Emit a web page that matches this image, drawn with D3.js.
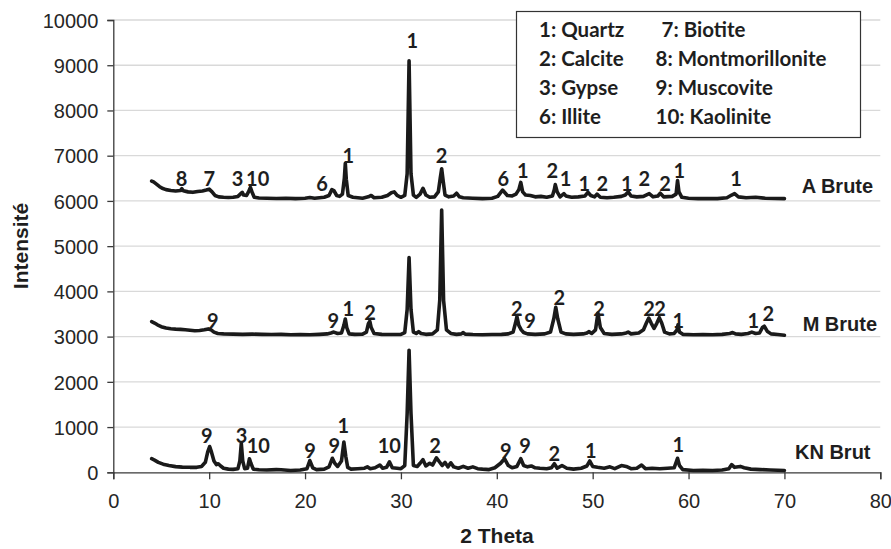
<!DOCTYPE html>
<html>
<head>
<meta charset="utf-8">
<script src="https://cdn.jsdelivr.net/npm/d3@7"></script>
<style>
  html, body { margin: 0; padding: 0; background: #fff; }
  svg { display: block; }
  .tick text { font-family: "Liberation Sans", Arial, sans-serif; font-size: 20px; fill: #262626; }
  .peak { font-family: Lato, "Open Sans", sans-serif; font-weight: 700; font-size: 20px; fill: #1e1e1e; }
  .legend text { font-family: Lato, "Open Sans", sans-serif; font-weight: 700; font-size: 20.5px; fill: #1e1e1e; }
  .series-name { font-family: "Liberation Sans", Arial, sans-serif; font-weight: 700; font-size: 20px; fill: #1e1e1e; }
  .axis-title { font-family: "Liberation Sans", Arial, sans-serif; font-weight: 700; font-size: 21px; fill: #1e1e1e; }
</style>
</head>
<body>
<svg id="chart" width="891" height="549"></svg>
<script>
// Diffractogrammes DRX : 2θ (degrés) et intensité (coups)
const xTicks = [0, 10, 20, 30, 40, 50, 60, 70, 80];
const yTicks = [0, 1000, 2000, 3000, 4000, 5000, 6000, 7000, 8000, 9000, 10000];

const aBrute = [
  [4.0,6440],[4.2,6420],[4.5,6370],[4.8,6320],[5.1,6280],[5.5,6250],[6.0,6230],[6.5,6220],
  [7.0,6230],[7.15,6270],[7.3,6225],[7.8,6200],[8.3,6190],[8.8,6210],[9.3,6220],[9.7,6240],
  [10.0,6260],[10.3,6200],[10.6,6120],[11.0,6090],[11.5,6080],[12.0,6075],[12.5,6080],[13.0,6100],
  [13.3,6160],[13.45,6190],[13.6,6130],[13.9,6120],[14.1,6200],[14.3,6300],[14.5,6180],[14.7,6080],
  [15.2,6065],[16,6060],[17,6055],[18,6060],[19,6050],[20,6060],[20.5,6075],[21,6060],
  [22,6080],[22.5,6120],[22.8,6250],[23.0,6230],[23.3,6120],[23.6,6100],[23.9,6150],[24.1,6500],
  [24.2,6830],[24.3,6480],[24.5,6120],[25,6080],[25.5,6070],[26,6060],[26.6,6090],[26.9,6120],
  [27.2,6070],[28,6080],[28.6,6120],[29.0,6180],[29.3,6200],[29.6,6120],[30.0,6080],[30.4,6120],
  [30.65,6600],[30.85,9100],[31.05,6600],[31.3,6130],[31.6,6080],[32.0,6150],[32.3,6280],[32.6,6130],
  [33.0,6080],[33.5,6090],[33.9,6200],[34.1,6500],[34.25,6710],[34.4,6450],[34.6,6130],[35.0,6090],
  [35.5,6110],[35.8,6170],[36.1,6090],[36.5,6070],[37.5,6060],[38.5,6050],[39.5,6060],[40.1,6100],
  [40.6,6240],[41.1,6120],[41.6,6110],[42.0,6150],[42.3,6250],[42.5,6410],[42.7,6200],[43.0,6130],
  [43.5,6120],[44.0,6090],[44.6,6100],[45.2,6080],[45.8,6110],[46.0,6250],[46.1,6360],[46.3,6200],
  [46.6,6090],[47.0,6160],[47.2,6110],[47.8,6080],[48.5,6090],[49.2,6110],[49.5,6190],[49.8,6120],
  [50.2,6090],[50.45,6150],[50.8,6080],[51.5,6070],[52.2,6080],[53.0,6100],[53.4,6130],[53.7,6200],
  [54.0,6110],[54.6,6090],[55.3,6100],[55.9,6160],[56.3,6090],[56.8,6110],[57.05,6170],[57.4,6090],
  [58.3,6100],[58.7,6150],[58.85,6450],[59.0,6200],[59.3,6080],[60,6060],[61,6050],[62,6055],
  [63,6050],[64,6070],[64.5,6130],[64.8,6160],[65.2,6090],[66,6070],[67,6080],[68,6060],
  [69,6055],[70,6050]
];

const mBrute = [
  [4.0,3330],[4.3,3300],[4.6,3260],[5.0,3220],[5.5,3190],[6.0,3175],[6.5,3165],[7.0,3160],
  [7.5,3150],[8.0,3140],[8.5,3130],[9.0,3135],[9.5,3150],[9.9,3170],[10.2,3150],[10.5,3100],
  [10.9,3070],[11.5,3060],[12.5,3055],[13.5,3050],[14.5,3055],[15.5,3050],[16.5,3045],[17.5,3050],
  [18.5,3040],[19.5,3045],[20.5,3040],[21.5,3050],[22.3,3060],[22.7,3080],[23.0,3100],[23.4,3070],
  [23.8,3080],[24.05,3250],[24.2,3390],[24.35,3200],[24.6,3060],[25.2,3050],[26.0,3055],[26.4,3100],
  [26.6,3280],[26.75,3340],[26.9,3200],[27.2,3070],[28.0,3050],[29.0,3045],[30.0,3050],[30.4,3090],
  [30.65,3600],[30.85,4750],[31.05,3600],[31.3,3100],[31.6,3070],[31.85,3110],[32.1,3070],[32.6,3050],
  [33.3,3060],[33.8,3150],[34.05,3800],[34.25,5800],[34.45,3800],[34.75,3150],[35.2,3070],[35.8,3050],
  [36.3,3060],[36.5,3090],[36.7,3055],[37.5,3045],[38.5,3040],[39.5,3045],[40.5,3050],[41.2,3060],
  [41.7,3100],[41.95,3300],[42.1,3440],[42.3,3250],[42.55,3150],[42.8,3090],[43.2,3060],[44.0,3050],
  [45.0,3060],[45.6,3100],[45.95,3400],[46.15,3650],[46.35,3400],[46.7,3100],[47.2,3060],[48.0,3050],
  [49.0,3060],[49.4,3080],[49.6,3110],[49.9,3070],[50.3,3150],[50.55,3520],[50.8,3200],[51.2,3070],
  [52.0,3050],[53.0,3060],[53.5,3080],[53.7,3100],[54.0,3060],[54.8,3080],[55.3,3150],[55.6,3300],
  [55.85,3410],[56.1,3300],[56.4,3180],[56.7,3300],[56.95,3420],[57.2,3300],[57.5,3100],[58.0,3060],
  [58.5,3070],[58.8,3150],[58.9,3260],[59.05,3100],[59.4,3050],[60.5,3040],[61.5,3045],[62.5,3040],
  [63.5,3050],[64.3,3070],[64.6,3090],[64.9,3060],[65.5,3050],[66.2,3070],[66.6,3100],[67.0,3070],
  [67.4,3080],[67.7,3200],[67.9,3230],[68.2,3120],[68.6,3060],[69.3,3045],[70.0,3030]
];

const knBrut = [
  [4.0,300],[4.3,270],[4.7,220],[5.2,180],[5.8,150],[6.5,125],[7.2,115],[8.0,110],
  [8.7,110],[9.2,130],[9.6,220],[9.85,450],[10.05,570],[10.25,440],[10.5,250],[10.75,170],
  [10.95,190],[11.2,140],[11.5,90],[12.0,70],[12.5,65],[13.0,80],[13.2,250],[13.35,640],
  [13.5,250],[13.7,80],[14.0,90],[14.2,300],[14.35,200],[14.6,70],[15.2,55],[16.0,50],
  [17.0,60],[17.5,55],[18.5,40],[19.5,50],[20.2,80],[20.5,260],[20.8,100],[21.2,60],
  [22.0,70],[22.5,120],[22.85,310],[23.1,200],[23.4,130],[23.8,250],[24.05,670],[24.25,350],
  [24.45,110],[24.8,70],[25.5,80],[26.2,90],[26.5,120],[26.8,80],[27.3,100],[27.8,160],
  [28.1,90],[28.5,110],[28.8,230],[29.1,100],[29.6,90],[30.0,80],[30.4,150],[30.65,1300],
  [30.85,2700],[31.05,1300],[31.3,150],[31.7,130],[32.0,200],[32.3,280],[32.6,140],[33.0,200],
  [33.3,160],[33.7,320],[33.95,250],[34.3,150],[34.6,220],[34.9,120],[35.2,210],[35.5,120],
  [36.0,90],[36.5,130],[37.0,90],[37.5,120],[38.0,80],[38.5,70],[39.2,60],[39.8,100],
  [40.4,200],[40.8,300],[41.2,150],[41.6,100],[42.1,130],[42.5,300],[42.8,150],[43.2,120],
  [43.6,140],[44.0,100],[44.5,90],[45.2,80],[45.7,100],[46.0,190],[46.3,90],[46.8,150],
  [47.3,90],[48.0,70],[48.8,90],[49.4,140],[49.7,250],[50.0,130],[50.5,110],[51.2,90],
  [51.8,120],[52.3,80],[53.0,150],[53.5,130],[54.0,80],[54.6,90],[55.1,160],[55.5,80],
  [56.2,90],[57.0,80],[57.8,90],[58.5,100],[58.75,250],[58.85,310],[59.05,150],[59.4,60],
  [60.5,40],[61.5,45],[62.5,40],[63.5,50],[64.2,80],[64.5,170],[64.8,110],[65.4,130],
  [65.8,100],[66.5,70],[67.5,60],[68.5,50],[69.3,45],[70.0,40]
];

// Repères des phases identifiées : [2θ, intensité, numéro]
const aPeaks = [
  [7.13,6504,"8"],[10.01,6504,"7"],[12.97,6504,"3"],[15.06,6504,"10"],[21.77,6394,"6"],
  [24.51,7020,"1"],[31.19,9564,"1"],[34.25,7020,"2"],[40.68,6504,"6"],[42.70,6688,"1"],
  [45.79,6688,"2"],[47.18,6504,"1"],[49.13,6407,"1"],[51.0,6394,"2"],[53.55,6394,"1"],
  [55.38,6504,"2"],[57.55,6407,"2"],[59.04,6688,"1"],[64.95,6504,"1"]
];
const mPeaks = [
  [10.37,3369,"9"],[22.95,3369,"9"],[24.51,3628,"1"],[26.78,3553,"2"],[42.08,3628,"2"],
  [43.47,3369,"9"],[46.52,3885,"2"],[50.66,3628,"2"],[55.87,3628,"2"],[57.02,3628,"2"],
  [58.94,3369,"1"],[66.76,3369,"1"],[68.32,3518,"2"]
];
const knPeaks = [
  [9.74,825,"9"],[13.39,825,"3"],[15.12,604,"10"],[20.52,493,"9"],[23.05,604,"9"],
  [24.0,1046,"1"],[28.79,604,"10"],[33.55,604,"2"],[40.93,493,"9"],[42.94,604,"9"],
  [46.0,420,"2"],[49.8,493,"1"],[58.93,619,"1"]
];

// Nom de chaque échantillon : [2θ, intensité, nom]
const sampleNames = [[71.8,6334,"A Brute"],[71.9,3281,"M Brute"],[71.1,442,"KN Brut"]];

const legendCol1 = ["1: Quartz", "2: Calcite", "3: Gypse", "6: Illite"];
const legendCol2 = ["7: Biotite", "8: Montmorillonite", "9: Muscovite", "10: Kaolinite"];

const svg = d3.select("#chart");
const plot = { left: 113.3, right: 880.3, top: 20, bottom: 472.3 };

const x = d3.scaleLinear().domain([0, 80]).range([plot.left, plot.right]);
const y = d3.scaleLinear().domain([0, 10000]).range([plot.bottom, plot.top]);

// Quadrillage horizontal
svg.append("g")
  .selectAll("line")
  .data(yTicks.filter(d => d > 0))
  .join("line")
  .attr("x1", plot.left).attr("x2", plot.right)
  .attr("y1", d => y(d)).attr("y2", d => y(d))
  .attr("stroke", "#d9d9d9").attr("stroke-width", 1.3);

// Axes
const yAxis = svg.append("g")
  .attr("transform", `translate(${plot.left},0)`)
  .call(d3.axisLeft(y).tickValues(yTicks).tickFormat(d3.format("d")).tickSize(6).tickPadding(9));
const xAxis = svg.append("g")
  .attr("transform", `translate(0,${plot.bottom})`)
  .call(d3.axisBottom(x).tickValues(xTicks).tickFormat(d3.format("d")).tickSize(7).tickPadding(15));
[yAxis, xAxis].forEach(g => {
  g.select(".domain").attr("stroke", "#3a3a3a").attr("stroke-width", 1.3);
  g.selectAll(".tick line").attr("stroke", "#3a3a3a").attr("stroke-width", 1.3);
});
yAxis.selectAll(".tick text").attr("dy", "0.36em");

// Titres des axes
svg.append("text").attr("class", "axis-title")
  .attr("x", 497).attr("y", 543).attr("text-anchor", "middle").text("2 Theta");
svg.append("text").attr("class", "axis-title")
  .attr("transform", "translate(28,246) rotate(-90)")
  .attr("text-anchor", "middle").text("Intensité");

// Courbes
const line = d3.line().x(d => x(d[0])).y(d => y(d[1]));
[aBrute, mBrute, knBrut].forEach(series => {
  svg.append("path")
    .datum(series)
    .attr("d", line)
    .attr("fill", "none")
    .attr("stroke", "#1a1a1a")
    .attr("stroke-width", 3.6)
    .attr("stroke-linejoin", "round")
    .attr("stroke-linecap", "round");
});

// Numéros des pics
svg.append("g")
  .selectAll("text")
  .data([...aPeaks, ...mPeaks, ...knPeaks])
  .join("text")
  .attr("class", "peak")
  .attr("x", d => x(d[0]))
  .attr("y", d => y(d[1]))
  .attr("text-anchor", "middle")
  .attr("dominant-baseline", "central")
  .text(d => d[2]);

// Noms des échantillons
svg.append("g")
  .selectAll("text")
  .data(sampleNames)
  .join("text")
  .attr("class", "series-name")
  .attr("x", d => x(d[0]))
  .attr("y", d => y(d[1]))
  .attr("dominant-baseline", "central")
  .text(d => d[2]);

// Légende
const legend = svg.append("g").attr("class", "legend");
legend.append("rect")
  .attr("x", 516.5).attr("y", 11.5).attr("width", 344).attr("height", 126)
  .attr("fill", "#fff").attr("stroke", "#333").attr("stroke-width", 1.2);
legend.selectAll("text.c1")
  .data(legendCol1)
  .join("text")
  .attr("class", "c1")
  .attr("x", 539).attr("y", (d, i) => 28.5 + i * 29)
  .attr("dominant-baseline", "central")
  .text(d => d);
legend.selectAll("text.c2")
  .data(legendCol2)
  .join("text")
  .attr("class", "c2")
  .attr("x", (d, i) => i === 0 ? 661.5 : 655.5).attr("y", (d, i) => 28.5 + i * 29)
  .attr("dominant-baseline", "central")
  .text(d => d);
</script>
</body>
</html>
